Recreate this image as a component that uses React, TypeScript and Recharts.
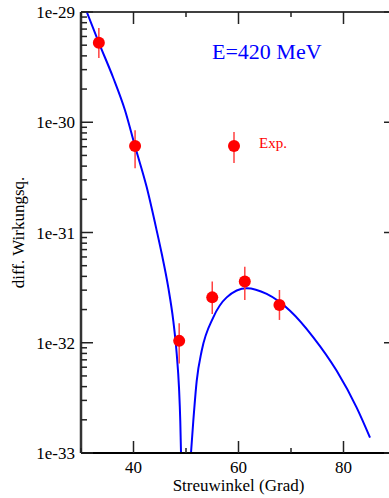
import { ComposedChart, Line, Scatter, ErrorBar, XAxis, YAxis, ReferenceLine, Customized, Label } from 'recharts';

// Messpunkte (Streuwinkel in Grad, Wirkungsquerschnitt)
const expAngles = [33.4, 40.3, 48.7, 55.0, 61.2, 67.8];
const expValues = [5.25e-30, 6.1e-31, 1.04e-32, 2.58e-32, 3.59e-32, 2.2e-32];
const expErrLow = [1.43e-30, 2.28e-31, 3.9e-33, 0.76e-32, 1.15e-32, 0.59e-32];
const expErrHigh = [1.91e-30, 2.35e-31, 4.6e-33, 1.02e-32, 1.31e-32, 0.81e-32];

// Theoriekurve, null = Nullstelle (Lücke)
const curveAngles = [31.1, 33.43, 36.1, 38.38, 40.29, 42.51, 44.42, 45.37, 46.63, 47.58, 48.23, 48.67, 48.91, 49.05, 50, 50.95, 51.39, 52.04, 52.99, 55.2, 57.75, 61.56, 65.37, 69.81, 74.25, 78.7, 82.51, 85.05];
const curveValues = [1e-29, 5.22e-30, 2.56e-30, 1.285e-30, 6.05e-31, 2.58e-31, 1.04e-31, 6.44e-32, 3.16e-32, 1.58e-32, 7.94e-33, 3.89e-33, 1.95e-33, 1e-33, null, 1e-33, 1.95e-33, 4.52e-33, 8.45e-33, 1.7e-32, 2.58e-32, 3.12e-32, 2.77e-32, 1.95e-32, 1.12e-32, 5.56e-33, 2.58e-33, 1.38e-33];

const xTicks = [30, 40, 50, 60, 70, 80, 90];
const xLabels = [40, 60, 80];
const decades = [-33, -32, -31, -30, -29];

const yTicks: number[] = [];
decades.forEach((d, i) => {
  yTicks.push(Math.pow(10, d));
  if (i < decades.length - 1) {
    for (let m = 2; m <= 9; m++) yTicks.push(m * Math.pow(10, d));
  }
});

const expData = expAngles.map((x, i) => ({ x, y: expValues[i], err: [expErrLow[i], expErrHigh[i]] }));
const curveData = curveAngles.map((x, i) => ({ x, y: curveValues[i] }));

const FONT = '"Liberation Serif", "DejaVu Serif", serif';
const PLOT_LEFT = 81;
const PLOT_RIGHT = 396;
const PLOT_TOP = 12;
const PLOT_BOTTOM = 453;

function YTick(props: any) {
  const { y, payload } = props;
  const lg = Math.log10(payload.value);
  const major = Math.abs(lg - Math.round(lg)) < 1e-6;
  const len = major ? 12 : 6;
  return (
    <g>
      <line x1={PLOT_LEFT} x2={PLOT_LEFT + len} y1={y} y2={y} stroke="#222" strokeWidth={1.5} />
      <line x1={PLOT_RIGHT} x2={PLOT_RIGHT - len} y1={y} y2={y} stroke="#222" strokeWidth={1.5} />
      {major && (
        <text x={PLOT_LEFT - 6} y={y} dy={6} textAnchor="end" fontFamily={FONT} fontSize={17} fill="#000">
          {`1e${Math.round(lg)}`}
        </text>
      )}
    </g>
  );
}

function XTick(props: any) {
  const { x, payload } = props;
  const major = xLabels.includes(payload.value);
  const len = major ? 12 : 5;
  return (
    <g>
      <line x1={x} x2={x} y1={PLOT_BOTTOM} y2={PLOT_BOTTOM - len} stroke="#222" strokeWidth={1.5} />
      <line x1={x} x2={x} y1={PLOT_TOP} y2={PLOT_TOP + len} stroke="#222" strokeWidth={1.5} />
      {major && (
        <text x={x} y={PLOT_BOTTOM + 20} textAnchor="middle" fontFamily={FONT} fontSize={17} fill="#000">
          {payload.value}
        </text>
      )}
    </g>
  );
}

function Decorations() {
  return (
    <g>
      <text x={212} y={59} fontFamily={FONT} fontSize={22} fill="#0000ff">E=420 MeV</text>
      <line x1={234} x2={234} y1={132} y2={163} stroke="#ff4040" strokeWidth={1.5} />
      <circle cx={234} cy={146} r={6} fill="#ff0000" />
      <text x={259} y={148} fontFamily={FONT} fontSize={15} fill="#ff0000">Exp.</text>
    </g>
  );
}

export default function App() {
  return (
    <div style={{ position: 'absolute', left: 0, top: 0, width: 389, height: 498, overflow: 'hidden', background: '#fff' }}>
      <ComposedChart width={400} height={498} margin={{ top: PLOT_TOP, right: 4, left: 0, bottom: 0 }}>
        <XAxis
          type="number"
          dataKey="x"
          domain={[30, 90]}
          ticks={xTicks}
          interval={0}
          allowDataOverflow
          height={45}
          tickLine={false}
          tick={<XTick />}
          stroke="#000"
          strokeWidth={2}
        >
          <Label value="Streuwinkel (Grad)" position="insideBottom" offset={7} style={{ fontFamily: FONT, fontSize: 17, fill: '#000' }} />
        </XAxis>
        <YAxis
          type="number"
          dataKey="y"
          scale="log"
          domain={[1e-33, 1e-29]}
          ticks={yTicks}
          interval={0}
          allowDataOverflow
          width={81}
          tickLine={false}
          tick={<YTick />}
          stroke="#333"
          strokeWidth={2.5}
        >
          <Label value="diff. Wirkungsq." angle={-90} position="insideLeft" offset={18} style={{ fontFamily: FONT, fontSize: 17, fill: '#000', textAnchor: 'middle' }} />
        </YAxis>
        <ReferenceLine y={1e-29} stroke="#000" strokeWidth={1.5} />
        <ReferenceLine x={90} stroke="#000" strokeWidth={1.5} />
        <Line
          data={curveData}
          dataKey="y"
          type="monotone"
          stroke="#0000ff"
          strokeWidth={2}
          dot={false}
          connectNulls={false}
          isAnimationActive={false}
          legendType="none"
        />
        <Scatter
          data={expData}
          dataKey="y"
          name="Exp."
          fill="#ff0000"
          isAnimationActive={false}
          shape={(p: any) => <circle cx={p.cx} cy={p.cy} r={6} fill="#ff0000" />}
        >
          <ErrorBar dataKey="err" direction="y" width={0} stroke="#ff4040" strokeWidth={1.5} isAnimationActive={false} />
        </Scatter>
        <Customized component={Decorations} />
      </ComposedChart>
    </div>
  );
}
